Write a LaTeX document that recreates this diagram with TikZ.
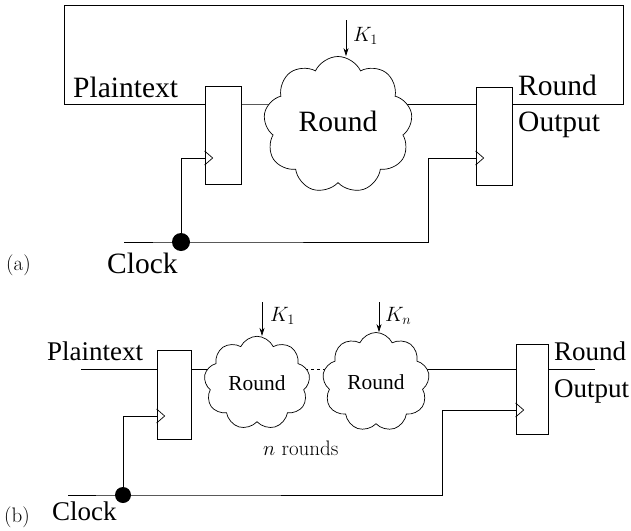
\documentclass[tikz,border=0pt]{standalone}
\usepackage{fontspec}
\newfontfamily\tms{Liberation Serif}
\usetikzlibrary{shapes.symbols}
\usetikzlibrary{calc}
\usetikzlibrary{backgrounds}
\usetikzlibrary{arrows.meta}

\tikzset{
  reg/.style={draw, line width=0.7pt, inner sep=0pt},
  rnd/.style={cloud, cloud puffs=9, cloud puff arc=130, draw, fill=white, line width=0.7pt, inner sep=0pt},
  wire/.style={line width=0.7pt},
  key/.style={line width=0.7pt, -{Stealth[length=8pt,width=5pt]}},
  lbla/.style={inner sep=0pt, anchor=base west, font=\tms\fontsize{29.5}{30}\selectfont},
  lblb/.style={inner sep=0pt, anchor=base west, font=\tms\fontsize{27}{28}\selectfont},
  cmlbl/.style={inner sep=0pt, anchor=base west, font=\fontsize{21}{22}\selectfont}
}

\begin{document}
\begin{tikzpicture}[x=1pt, y=-1pt]
    \useasboundingbox (0,0) rectangle (631,530);

    % --- (a) : un seul tour, avec rebouclage ---
    \node[reg, minimum width=36pt, minimum height=98pt] (r1a) at (223,135) {};
    \node[reg, minimum width=36pt, minimum height=98pt] (r2a) at (494,136) {};
    \node[rnd, minimum width=149pt, minimum height=137pt, text depth=8pt, font=\tms\fontsize{29.5}{30}\selectfont] (ca) at (338,125) {Round};

    \coordinate (busa) at (0,104);
    \coordinate (loopl) at (64,5);
    \coordinate (loopr) at (623,5);
    \coordinate (k1a) at (346,20);
    \coordinate (clkina) at (124,242);
    \coordinate (dota) at (181,242);
    \coordinate (bnda) at (428,242);
    \coordinate (ck1a) at (r1a.west |- 0,158);
    \coordinate (ck2a) at (r2a.west |- 0,158);

    \begin{scope}[on background layer]
        \draw[wire] (r1a.east |- busa) -- (ca.center |- busa) -- (r2a.west |- busa);
        \draw[wire] (r2a.east |- busa) -| (loopr) -- (loopl) |- (r1a.west |- busa);
    \end{scope}
    \draw[key] (k1a) -- (k1a |- ca.north);

    % horloge
    \draw[wire] (clkina) -- (dota) -- (bnda) |- (ck2a);
    \draw[wire] (dota) |- (ck1a);
    \fill (dota) circle (9pt);

    \node[lbla] at (73,97) {Plaintext};
    \node[lbla] at (518,95) {Round};
    \node[lbla] at (518,131) {Output};
    \node[lbla] at (107,273) {Clock};
    \node[cmlbl] at (6,270) {(a)};
    \node[cmlbl] at (353,41) {$K_1$};

    % --- (b) : n tours en cascade ---
    \node[reg, minimum width=34pt, minimum height=89pt] (r1b) at (174,394.5) {};
    \node[reg, minimum width=32pt, minimum height=90pt] (r2b) at (532,389) {};
    \node[rnd, minimum width=106pt, minimum height=93pt, font=\tms\fontsize{21.4}{22}\selectfont] (cb1) at (257,383) {Round};
    \node[rnd, minimum width=107pt, minimum height=99pt, font=\tms\fontsize{21.4}{22}\selectfont] (cb2) at (376,382) {Round};

    \coordinate (busb) at (0,369);
    \coordinate (ptin) at (81,369);
    \coordinate (ctout) at (595,369);
    \coordinate (k1b) at (262,302);
    \coordinate (knb) at (379,302);
    \coordinate (clkinb) at (68,495);
    \coordinate (dotb) at (123,495);
    \coordinate (bndb) at (442,495);
    \coordinate (ck1b) at (r1b.west |- 0,416);
    \coordinate (ck2b) at (r2b.west |- 0,410);

    \begin{scope}[on background layer]
        \draw[wire] (ptin) -- (r1b.west |- busb);
        \draw[wire] (r1b.east |- busb) -- (cb1.center |- busb);
        \draw[wire, dash pattern=on 3pt off 3pt] (cb1.center |- busb) -- (cb2.center |- busb);
        \draw[wire] (cb2.center |- busb) -- (r2b.west |- busb);
        \draw[wire] (r2b.east |- busb) -- (ctout);
    \end{scope}
    \draw[key] (k1b) -- (k1b |- cb1.north);
    \draw[key] (knb) -- (knb |- cb2.north);

    % horloge
    \draw[wire] (clkinb) -- (dotb) -- (bndb) |- (ck2b);
    \draw[wire] (dotb) |- (ck1b);
    \fill (dotb) circle (8pt);

    % --- entrees d'horloge des registres ---
    \foreach \c in {ck1a, ck2a, ck1b, ck2b}
        \draw[wire] ($(\c)+(0,-7)$) -- ($(\c)+(8,0)$) -- ($(\c)+(0,7)$);

    \node[lblb] at (47,360) {Plaintext};
    \node[lblb] at (554,360) {Round};
    \node[lblb] at (554,397) {Output};
    \node[lblb] at (52,520) {Clock};
    \node[cmlbl] at (4,522) {(b)};
    \node[cmlbl] at (270,321) {$K_1$};
    \node[cmlbl] at (385,321) {$K_n$};
    \node[cmlbl] at (263,455) {$n$ rounds};
\end{tikzpicture}
\end{document}
